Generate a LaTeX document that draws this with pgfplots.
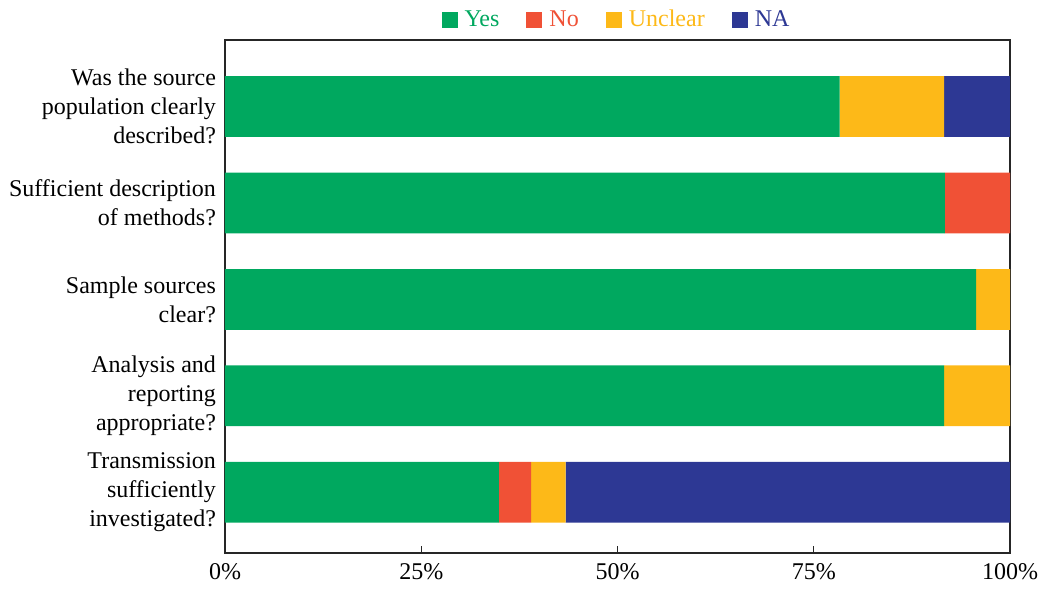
\documentclass[border=0pt]{standalone}
\usepackage{pgfplots}
\pgfplotsset{compat=1.18}
\usepackage{fontspec}
\setmainfont{Liberation Serif}

\definecolor{cyes}{HTML}{00A85F}
\definecolor{cno}{HTML}{F05136}
\definecolor{cunc}{HTML}{FDB918}
\definecolor{cna}{HTML}{2D3894}

\begin{document}
\begin{tikzpicture}
\begin{axis}[
  xbar stacked,
  scale only axis,
  width=392.5pt, height=256.5pt,
  xmin=0, xmax=100,
  ymin=-0.63, ymax=4.69,
  bar width=0.63,
  axis line style={line width=0.75pt, color=black!85},
  tick align=inside,
  xtick pos=bottom,
  xtick={0,25,50,75,100},
  xticklabels={0\%,25\%,50\%,75\%,100\%},
  major tick length=3.5pt,
  tick style={line width=0.6pt, color=black!85},
  ytick={0,1,2,3,4},
  yticklabels={{Transmission\\sufficiently\\investigated?},
               {Analysis and\\reporting\\appropriate?},
               {Sample sources\\clear?},
               {Sufficient description\\of methods?},
               {Was the source\\population clearly\\described?}},
  ytick style={draw=none},
  yticklabel style={align=right, xshift=-1pt, font=\fontsize{12}{14.5}\selectfont},
  xticklabel style={yshift=-1.5pt, font=\fontsize{12}{14.5}\selectfont},
  legend columns=4,
  legend style={at={(0.5,1)}, anchor=south, yshift=1pt, draw=none,
    font=\fontsize{12}{14.5}\selectfont,
    /tikz/every odd column/.append style={column sep=1.5pt},
    /tikz/every even column/.append style={column sep=11.5pt}},
  legend image code/.code={\fill[#1] (0pt,-4pt) rectangle (8pt,4pt);},
  every axis plot/.append style={draw=none},
]
\addplot[fill=cyes] coordinates {(34.9,0) (91.6,1) (95.7,2) (91.7,3) (78.3,4)};
\addplot[fill=cno]  coordinates {(4.1,0) (0,1) (0,2) (8.3,3) (0,4)};
\addplot[fill=cunc] coordinates {(4.4,0) (8.4,1) (4.3,2) (0,3) (13.3,4)};
\addplot[fill=cna]  coordinates {(56.6,0) (0,1) (0,2) (0,3) (8.4,4)};
\legend{\textcolor{cyes}{Yes},\textcolor{cno}{No},\textcolor{cunc}{Unclear},\textcolor{cna}{NA}}
\end{axis}
\pgfresetboundingbox
\path[use as bounding box] ([xshift=-112.5pt,yshift=-18.5pt]current axis.south west)
  rectangle ([xshift=15pt,yshift=20pt]current axis.north east);
\end{tikzpicture}
\end{document}
